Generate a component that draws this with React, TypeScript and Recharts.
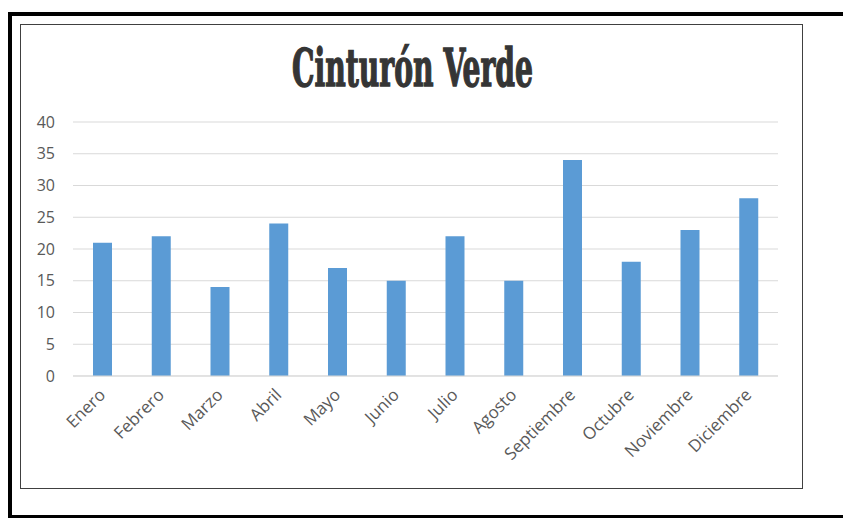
import React from 'react';
import { BarChart, Bar, XAxis, YAxis, CartesianGrid } from 'recharts';

const months = ['Enero', 'Febrero', 'Marzo', 'Abril', 'Mayo', 'Junio', 'Julio', 'Agosto', 'Septiembre', 'Octubre', 'Noviembre', 'Diciembre'];
const values = [21, 22, 14, 24, 17, 15, 22, 15, 34, 18, 23, 28];
const yTicks = [0, 5, 10, 15, 20, 25, 30, 35, 40];
const title = 'Cinturón Verde';

const data = months.map((m, i) => ({ name: m, value: values[i] }));

const FONT = "'Open Sans', Lato, sans-serif";

const AxisTick = (props: any) => {
  const { x, y, payload } = props;
  return (
    <text
      transform={`translate(${x + 4},${y + 12}) rotate(-45)`}
      textAnchor="end"
      fill="#595959"
      fontSize={17}
      fontFamily={FONT}
    >
      {payload.value}
    </text>
  );
};

export default function App() {
  return (
    <div style={{ position: 'absolute', left: 0, top: 0, width: 843, height: 518, overflow: 'hidden', background: '#fff' }}>
      <div style={{ position: 'absolute', left: 8, top: 12, width: 850, height: 507, border: '4px solid #000', boxSizing: 'border-box' }} />
      <div style={{ position: 'absolute', left: 20, top: 24, width: 783, height: 465, border: '1.5px solid #404040', boxSizing: 'border-box' }} />
      <svg style={{ position: 'absolute', left: 0, top: 0 }} width={843} height={518}>
        <text
          x={292}
          y={86}
          textLength={241}
          lengthAdjust="spacingAndGlyphs"
          fontSize={52}
          fontWeight="bold"
          fill="#353535"
          stroke="#353535"
          strokeWidth={1.4}
          fontFamily="'DejaVu Serif Condensed', 'DejaVu Serif', serif"
        >
          {title}
        </text>
      </svg>
      <div style={{ position: 'absolute', left: 0, top: 0 }}>
        <BarChart width={843} height={518} data={data} margin={{ top: 122, right: 65, bottom: 0, left: 0 }}>
          <CartesianGrid vertical={false} stroke="#D9D9D9" />
          <XAxis
            dataKey="name"
            height={142}
            axisLine={{ stroke: '#D9D9D9' }}
            tickLine={false}
            interval={0}
            tick={<AxisTick />}
          />
          <YAxis
            width={73}
            domain={[0, 40]}
            ticks={yTicks}
            axisLine={false}
            tickLine={false}
            tickMargin={12}
            tick={{ fill: '#595959', fontSize: 16, fontFamily: FONT }}
          />
          <Bar dataKey="value" fill="#5B9BD5" barSize={19} isAnimationActive={false} />
        </BarChart>
      </div>
    </div>
  );
}
